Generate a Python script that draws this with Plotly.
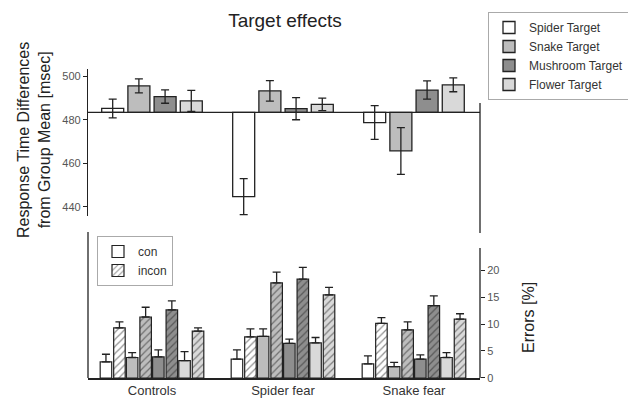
import plotly.graph_objects as go

groups = ["Controls", "Spider fear", "Snake fear"]
targets = ["Spider Target", "Snake Target", "Mushroom Target", "Flower Target"]
target_colors = ["#ffffff", "#bdbdbd", "#8e8e8e", "#d9d9d9"]

group_mean = 483.5
# Response times (msec) per target, for Controls, Spider fear, Snake fear
rt_spider = [485.3, 444.6, 478.8]
rt_snake = [495.7, 493.4, 465.7]
rt_mushroom = [490.8, 485.2, 493.8]
rt_flower = [488.8, 487.2, 496.2]
rt_err_spider = [4.3, 8.3, 7.8]
rt_err_snake = [3.2, 4.7, 10.8]
rt_err_mushroom = [3.1, 5.1, 4.2]
rt_err_flower = [4.8, 2.9, 3.2]

# Error rates (%) congruent / incongruent
err_con_spider = [3.0, 3.5, 2.6]
err_con_snake = [3.8, 7.7, 2.1]
err_con_mushroom = [3.9, 6.4, 3.5]
err_con_flower = [3.2, 6.5, 3.8]
err_incon_spider = [9.3, 7.6, 10.1]
err_incon_snake = [11.3, 17.6, 8.9]
err_incon_mushroom = [12.6, 18.3, 13.4]
err_incon_flower = [8.7, 15.4, 10.9]
sem_con_spider = [1.4, 1.7, 1.5]
sem_con_snake = [0.9, 1.4, 0.8]
sem_con_mushroom = [1.3, 0.8, 0.8]
sem_con_flower = [1.7, 1.0, 0.9]
sem_incon_spider = [1.1, 1.5, 1.1]
sem_incon_snake = [1.8, 2.0, 1.5]
sem_incon_mushroom = [1.7, 2.2, 1.8]
sem_incon_flower = [0.6, 1.4, 1.0]

rt_vals = [rt_spider, rt_snake, rt_mushroom, rt_flower]
rt_errs = [rt_err_spider, rt_err_snake, rt_err_mushroom, rt_err_flower]
con_vals = [err_con_spider, err_con_snake, err_con_mushroom, err_con_flower]
incon_vals = [err_incon_spider, err_incon_snake, err_incon_mushroom, err_incon_flower]
con_sems = [sem_con_spider, sem_con_snake, sem_con_mushroom, sem_con_flower]
incon_sems = [sem_incon_spider, sem_incon_snake, sem_incon_mushroom, sem_incon_flower]

slot = 0.2
top_w = 0.168
sub_w = 0.088
sub_off = 0.0515
line_c = "#222222"
font = "Liberation Sans, Arial, sans-serif"

fig = go.Figure()

for t, name in enumerate(targets):
    xs = [g + (t - 1.5) * slot for g in range(len(groups))]
    fig.add_trace(go.Bar(
        x=xs, y=[v - group_mean for v in rt_vals[t]], base=group_mean,
        width=top_w, name=name, legend="legend",
        marker=dict(color=target_colors[t], line=dict(color=line_c, width=1.3)),
        error_y=dict(type="data", array=rt_errs[t], color=line_c, thickness=1.3, width=4),
        xaxis="x", yaxis="y",
    ))

for t in range(len(targets)):
    xs_c = [g + (t - 1.5) * slot - sub_off for g in range(len(groups))]
    xs_i = [g + (t - 1.5) * slot + sub_off for g in range(len(groups))]
    fig.add_trace(go.Bar(
        x=xs_c, y=con_vals[t], width=sub_w, showlegend=False,
        marker=dict(color=target_colors[t], line=dict(color=line_c, width=1.2)),
        error_y=dict(type="data", symmetric=False, array=con_sems[t], arrayminus=[0] * 3,
                     color=line_c, thickness=1.3, width=4),
        xaxis="x2", yaxis="y2",
    ))
    fig.add_trace(go.Bar(
        x=xs_i, y=incon_vals[t], width=sub_w, showlegend=False,
        marker=dict(color=target_colors[t], line=dict(color=line_c, width=1.2),
                    pattern=dict(shape="/", fgcolor=line_c, bgcolor=target_colors[t], size=5, solidity=0.25)),
        error_y=dict(type="data", symmetric=False, array=incon_sems[t], arrayminus=[0] * 3,
                     color=line_c, thickness=1.3, width=4),
        xaxis="x2", yaxis="y2",
    ))

# legend entries for congruency
fig.add_trace(go.Bar(x=[None], y=[None], name="con", legend="legend2", width=sub_w,
                     marker=dict(color="#ffffff", line=dict(color=line_c, width=1.2)),
                     xaxis="x2", yaxis="y2"))
fig.add_trace(go.Bar(x=[None], y=[None], name="incon", legend="legend2", width=sub_w,
                     marker=dict(color="#ffffff", line=dict(color=line_c, width=1.2),
                                 pattern=dict(shape="/", fgcolor=line_c, bgcolor="#ffffff", size=5, solidity=0.25)),
                     xaxis="x2", yaxis="y2"))

xr = [-0.4885, 2.504]
tickfont = dict(family=font, size=11, color="#555555")

fig.update_layout(
    width=628, height=398,
    margin=dict(l=88, r=148, t=69, b=20, autoexpand=False),
    paper_bgcolor="white", plot_bgcolor="white",
    barmode="overlay",
    font=dict(family=font, color="#222222"),
    title=dict(text="Target effects", x=285 / 628, xanchor="center", y=1 - 20 / 398, yanchor="middle",
               font=dict(family=font, size=19, color="#222222")),
    xaxis=dict(domain=[0, 1], range=xr, visible=False, anchor="y"),
    yaxis=dict(domain=[0.5243, 1.0], range=[435.7, 503.5], anchor="x",
               tickvals=[440, 460, 480, 500], ticks="outside", ticklen=4, tickcolor=line_c,
               showline=True, linecolor=line_c, linewidth=1.3, showgrid=False, zeroline=False,
               tickfont=tickfont),
    xaxis2=dict(domain=[0, 1], range=xr, anchor="y2", tickvals=[0, 1, 2], ticktext=groups,
                ticks="", showline=True, linecolor=line_c, linewidth=1.5, showgrid=False,
                zeroline=False, tickfont=dict(family=font, size=13, color="#333333")),
    yaxis2=dict(domain=[0, 0.4725], range=[0, 27.04], anchor="x2", side="right",
                tickvals=[0, 5, 10, 15, 20], ticks="outside", ticklen=4, tickcolor=line_c,
                showline=False, showgrid=False, zeroline=False, tickfont=tickfont),
    legend=dict(xref="container", yref="container", x=488 / 628, y=1 - 12 / 398,
                xanchor="left", yanchor="top", bordercolor="#aaaaaa",
                borderwidth=1, bgcolor="white", font=dict(family=font, size=12, color="#333333"),
                tracegroupgap=0),
    legend2=dict(xref="container", yref="container", x=97 / 628, y=1 - 236 / 398,
                 xanchor="left", yanchor="top", bordercolor="#aaaaaa",
                 borderwidth=1, bgcolor="white", font=dict(family=font, size=12, color="#333333")),
    showlegend=True,
)

# frame lines
fig.add_shape(type="line", xref="paper", yref="y", x0=0, x1=1, y0=group_mean, y1=group_mean,
              line=dict(color=line_c, width=1.3))
fig.add_shape(type="line", xref="paper", yref="paper", x0=1, x1=1, y0=0.4693, y1=0.89,
              line=dict(color=line_c, width=1.3))
fig.add_shape(type="line", xref="paper", yref="paper", x0=1, x1=1, y0=0, y1=0.4207,
              line=dict(color=line_c, width=1.3))
fig.add_shape(type="line", xref="paper", yref="paper", x0=0, x1=0, y0=0, y1=0.4725,
              line=dict(color=line_c, width=1.3))

fig.add_annotation(text="Response Time Differences<br>from Group Mean [msec]", textangle=-90,
                   xref="paper", yref="paper", x=(34 - 88) / 392, y=(378 - 140) / 309,
                   xanchor="center", yanchor="middle", showarrow=False,
                   font=dict(family=font, size=16, color="#222222"))
fig.add_annotation(text="Errors [%]", textangle=-90,
                   xref="paper", yref="paper", x=(528 - 88) / 392, y=(378 - 318) / 309,
                   xanchor="center", yanchor="middle", showarrow=False,
                   font=dict(family=font, size=16, color="#222222"))

fig.write_html("out.html", config={"displayModeBar": False},
               post_script="document.body.style.margin='0px';document.body.style.padding='0px';")
